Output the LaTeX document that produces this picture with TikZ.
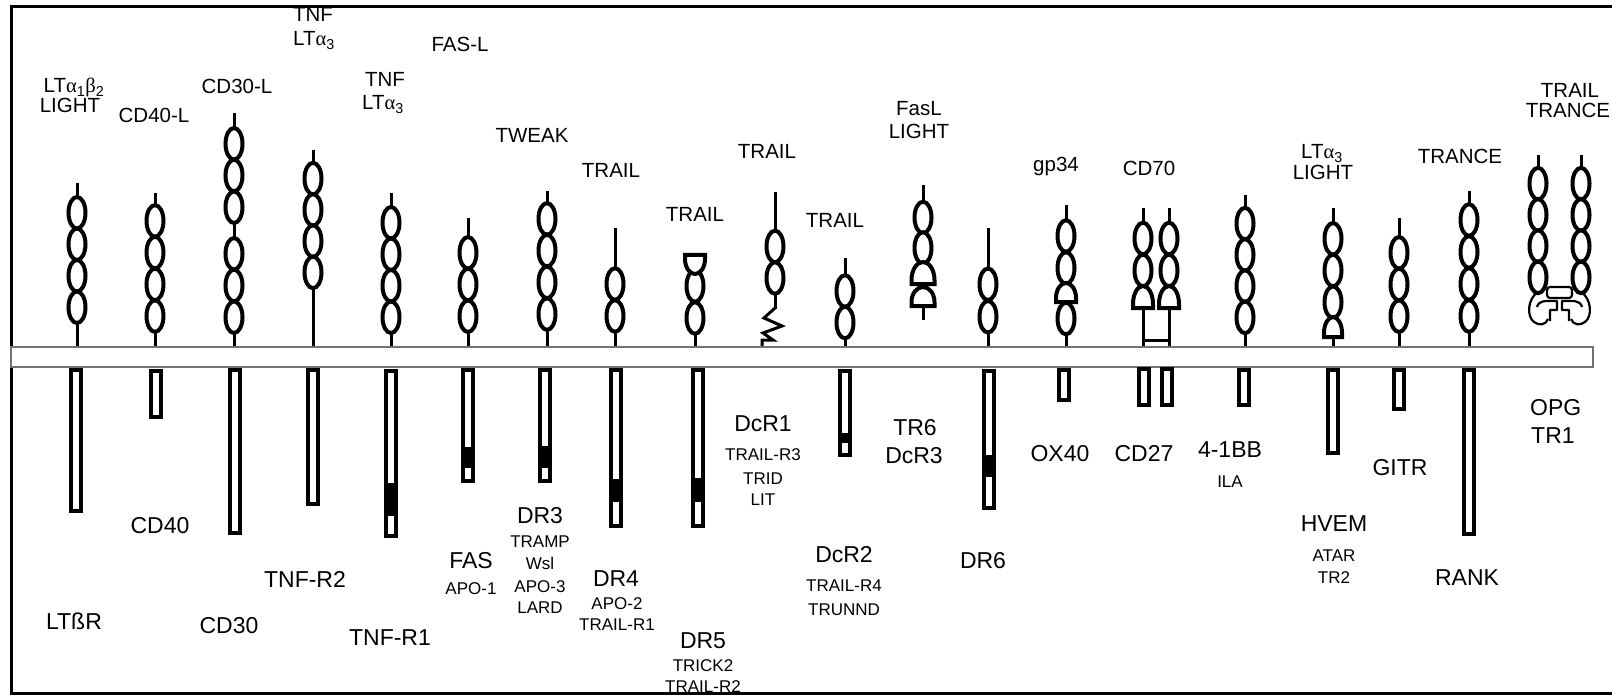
\documentclass[tikz,border=0pt]{standalone}
\usepackage{fontspec}
\setmainfont{Liberation Sans}
\newfontfamily\grk{Liberation Serif}
\newcommand{\lta}{LT{\grk α}}
\newcommand{\Stalk}[3]{\draw[stalk] (#1,#2) -- (#1,#3);}
\newcommand{\Ell}[2]{\draw[dom] (#1,#2) ellipse[x radius=8.5,y radius=15.8];}
\newcommand{\DomeUp}[4]{% x, top (round), bottom (flat), half width
 \pgfmathsetmacro{\dxl}{#1-#4}\pgfmathsetmacro{\dxr}{#1+#4}%
 \pgfmathsetmacro{\dxa}{#1-0.552*#4}\pgfmathsetmacro{\dxb}{#1+0.552*#4}%
 \pgfmathsetmacro{\dym}{#3-4}\pgfmathsetmacro{\dyc}{\dym-0.552*(\dym-#2)}%
 \draw[dom] (\dxl,#3) -- (\dxr,#3) -- (\dxr,\dym) .. controls (\dxr,\dyc) and (\dxb,#2) .. (#1,#2) .. controls (\dxa,#2) and (\dxl,\dyc) .. (\dxl,\dym) -- cycle;}
\newcommand{\DomeDown}[4]{% x, top (flat), bottom (round), half width
 \pgfmathsetmacro{\dxl}{#1-#4}\pgfmathsetmacro{\dxr}{#1+#4}%
 \pgfmathsetmacro{\dxa}{#1-0.552*#4}\pgfmathsetmacro{\dxb}{#1+0.552*#4}%
 \pgfmathsetmacro{\dym}{#2+4}\pgfmathsetmacro{\dyc}{\dym+0.552*(#3-\dym)}%
 \draw[dom] (\dxl,#2) -- (\dxr,#2) -- (\dxr,\dym) .. controls (\dxr,\dyc) and (\dxb,#3) .. (#1,#3) .. controls (\dxa,#3) and (\dxl,\dyc) .. (\dxl,\dym) -- cycle;}
\newcommand{\ICbox}[3]{\draw[icd] ({#1-5},{#2+2}) rectangle ({#1+5},{#3-2});}
\newcommand{\DDom}[3]{\fill ({#1-5},#2) rectangle ({#1+5},#3);}
\begin{document}
\begin{tikzpicture}[x=1pt,y=-1pt,
  stalk/.style={line width=3pt},
  dom/.style={line width=4pt,fill=white},
  icd/.style={line width=4pt,fill=white},
  blob/.style={line width=2.2pt,line join=round},
  lig/.style={font=\fontsize{20.5}{23}\selectfont,inner sep=0pt,anchor=base},
  rec/.style={font=\fontsize{23}{26}\selectfont,inner sep=0pt,anchor=base},
  alt/.style={font=\fontsize{17}{19}\selectfont,inner sep=0pt,anchor=base},
]
\useasboundingbox (0,0) rectangle (1612,695);
\fill[white] (0,0) rectangle (1612,695);

% ---------------- frame ----------------
\draw[line width=3pt] (1612,7) -- (11,7) -- (11,693) -- (1612,693);

% ---------------- extracellular domains ----------------
% LTbR
\Stalk{77}{183}{347}
\foreach \c in {212.75,244.25,275.75,307.25} {\Ell{77}{\c}}
% CD40
\Stalk{155}{193}{347}
\foreach \c in {220.9,252.6,284.4,316.1} {\Ell{155}{\c}}
% CD30
\Stalk{234}{113}{347}
\foreach \c in {143.8,175.5,207.2,253.8,285.5,317.2} {\Ell{234}{\c}}
% TNF-R2
\Stalk{313}{150}{347}
\foreach \c in {178.6,209.9,241.1,272.4} {\Ell{313}{\c}}
% TNF-R1
\Stalk{391}{193}{347}
\foreach \c in {222.75,254.25,285.75,317.25} {\Ell{391}{\c}}
% FAS
\Stalk{468}{218}{347}
\foreach \c in {252.8,284.5,316.2} {\Ell{468}{\c}}
% DR3
\Stalk{547}{191}{347}
\foreach \c in {218.9,250.6,282.4,314.1} {\Ell{547}{\c}}
% DR4
\Stalk{615}{228}{347}
\foreach \c in {284,316} {\Ell{615}{\c}}
% DR5
\Stalk{695}{262}{347}
\foreach \c in {286,318} {\Ell{695}{\c}}
\DomeDown{695}{255}{274}{10}
% DcR1
\Stalk{775}{192}{309}
\foreach \c in {246.5,278} {\Ell{775}{\c}}
\draw[stalk,line join=miter] (775,308) -- (764,318) -- (782,326) -- (763,333) -- (773,340) -- (762,340) -- (762,347);
% DcR2
\Stalk{845}{258}{347}
\foreach \c in {291,322.5} {\Ell{845}{\c}}
% TR6
\Stalk{923}{185}{320}
\foreach \c in {217.5,248} {\Ell{923}{\c}}
\DomeUp{923}{262}{284}{11.5}
\DomeUp{923}{287}{306}{11.5}
% DR6
\Stalk{988}{228}{347}
\foreach \c in {284.25,316.75} {\Ell{988}{\c}}
% OX40
\Stalk{1066}{205}{347}
\foreach \c in {236,268} {\Ell{1066}{\c}}
\DomeUp{1066}{283}{302}{10}
\Ell{1066}{318.5}
% CD27 (dimer)
\Stalk{1143}{208}{347}
\Stalk{1169}{208}{347}
\foreach \c in {238.5,270.5} {\Ell{1143}{\c}\Ell{1169}{\c}}
\DomeUp{1143}{286}{308}{10}
\DomeUp{1169}{286}{308}{10}
\draw[stalk] (1143,340) -- (1169,340);
% 4-1BB
\Stalk{1245}{195}{347}
\foreach \c in {223.6,254.9,286.1,317.4} {\Ell{1245}{\c}}
% HVEM
\Stalk{1333}{208}{347}
\foreach \c in {238.8,270.5,302.2} {\Ell{1333}{\c}}
\DomeUp{1333}{317}{337}{9}
% GITR
\Stalk{1399}{218}{347}
\foreach \c in {252.8,284.5,316.2} {\Ell{1399}{\c}}
% RANK
\Stalk{1469}{191}{347}
\foreach \c in {220,252,284,316} {\Ell{1469}{\c}}
% OPG (dimer, soluble)
\Stalk{1538}{155}{170}
\Stalk{1581}{155}{170}
\foreach \c in {183.6,214.9,246.1,277.4} {\Ell{1538}{\c}\Ell{1581}{\c}}
\draw[blob] (1538,292) .. controls (1528,298) and (1526,316) .. (1534,322) .. controls (1539,326) and (1546,325) .. (1548,319);
\draw[blob] (1581,292) .. controls (1591,298) and (1593,316) .. (1585,322) .. controls (1580,326) and (1573,325) .. (1571,319);
\draw[blob] (1537,307) .. controls (1539,300) and (1545,301) .. (1557,301) -- (1557,310) -- (1550,310) -- (1550,321);
\draw[blob] (1582,307) .. controls (1580,300) and (1574,301) .. (1562,301) -- (1562,310) -- (1569,310) -- (1569,321);
\draw[blob,rounded corners=3pt,fill=white] (1547,287) rectangle (1572,298);

% ---------------- membrane ----------------
\draw[line width=1.3pt,draw=black!55,fill=white] (11,347) rectangle (1593,367);

% ---------------- intracellular domains ----------------
\ICbox{76}{368}{513}
\ICbox{156}{369}{419}
\ICbox{235}{368}{535}
\ICbox{313}{368}{506}
\ICbox{391}{369}{538} \DDom{391}{483}{516}
\ICbox{468}{368}{483} \DDom{468}{447}{468}
\ICbox{545}{368}{483} \DDom{545}{446}{468}
\ICbox{616}{368}{528} \DDom{616}{479}{502}
\ICbox{698}{368}{528} \DDom{698}{478}{502}
\ICbox{845}{369}{457} \DDom{845}{433}{443}
\ICbox{989}{369}{510} \DDom{989}{455}{477}
\ICbox{1064}{368}{402}
\ICbox{1144}{367}{407}
\ICbox{1167}{367}{407}
\ICbox{1244}{368}{407}
\ICbox{1333}{368}{455}
\ICbox{1399}{368}{411}
\ICbox{1469}{368}{536}

% ---------------- ligand labels ----------------
\node[lig] (L1a) at (74,93) {LT{\grk α}\textsubscript{1}{\grk β}\textsubscript{2}};
\node[lig] (L1b) at (70,113) {LIGHT};
\node[lig] (L2) at (154,123) {CD40-L};
\node[lig] (L3) at (237,94) {CD30-L};
\node[lig] (L4a) at (313,22) {TNF};
\node[lig] (L4b) at (314,46) {\lta\textsubscript{3}};
\node[lig] (L5a) at (385,87) {TNF};
\node[lig] (L5b) at (383,110) {\lta\textsubscript{3}};
\node[lig] (L6) at (460,52) {FAS-L};
\node[lig] (L7) at (532,143) {TWEAK};
\node[lig] (L8) at (611,178) {TRAIL};
\node[lig] (L9) at (695,222) {TRAIL};
\node[lig] (L10) at (767,159) {TRAIL};
\node[lig] (L11) at (835,228) {TRAIL};
\node[lig] (L12a) at (919,116) {FasL};
\node[lig] (L12b) at (919,139) {LIGHT};
\node[lig] (L14) at (1056,172) {gp34};
\node[lig] (L15) at (1149,176) {CD70};
\node[lig] (L17a) at (1322,159) {\lta\textsubscript{3}};
\node[lig] (L17b) at (1323,180) {LIGHT};
\node[lig] (L19) at (1460,164) {TRANCE};
\node[lig] (L20a) at (1570,98) {TRAIL};
\node[lig] (L20b) at (1568,118) {TRANCE};

% ---------------- receptor labels ----------------
\node[rec] (R1) at (74,629) {LTßR};
\node[rec] (R2) at (160,533) {CD40};
\node[rec] (R3) at (229,633) {CD30};
\node[rec] (R4) at (305,587) {TNF-R2};
\node[rec] (R5) at (390,645) {TNF-R1};
\node[rec] (R6) at (471,568) {FAS};
\node[alt] (R6a) at (471,594) {APO-1};
\node[rec] (R7) at (540,523) {DR3};
\node[alt] (R7a) at (540,547) {TRAMP};
\node[alt] (R7b) at (540,569) {Wsl};
\node[alt] (R7c) at (540,592) {APO-3};
\node[alt] (R7d) at (540,613) {LARD};
\node[rec] (R8) at (616,586) {DR4};
\node[alt] (R8a) at (617,609) {APO-2};
\node[alt] (R8b) at (617,630) {TRAIL-R1};
\node[rec] (R9) at (703,648) {DR5};
\node[alt] (R9a) at (703,671) {TRICK2};
\node[alt] (R9b) at (703,692) {TRAIL-R2};
\node[rec] (R10) at (763,431) {DcR1};
\node[alt] (R10a) at (763,460) {TRAIL-R3};
\node[alt] (R10b) at (763,484) {TRID};
\node[alt] (R10c) at (763,505) {LIT};
\node[rec] (R11) at (844,562) {DcR2};
\node[alt] (R11a) at (844,591) {TRAIL-R4};
\node[alt] (R11b) at (844,615) {TRUNND};
\node[rec] (R12a) at (915,435) {TR6};
\node[rec] (R12b) at (914,463) {DcR3};
\node[rec] (R13) at (983,568) {DR6};
\node[rec] (R14) at (1060,461) {OX40};
\node[rec] (R15) at (1144,461) {CD27};
\node[rec] (R16) at (1230,457) {4-1BB};
\node[alt] (R16a) at (1230,487) {ILA};
\node[rec] (R17) at (1334,531) {HVEM};
\node[alt] (R17a) at (1334,561) {ATAR};
\node[alt] (R17b) at (1334,583) {TR2};
\node[rec] (R18) at (1400,475) {GITR};
\node[rec] (R19) at (1467,585) {RANK};
\node[rec,anchor=base west] (R20a) at (1530,415) {OPG};
\node[rec,anchor=base west] (R20b) at (1531,443) {TR1};
\end{tikzpicture}
\end{document}
